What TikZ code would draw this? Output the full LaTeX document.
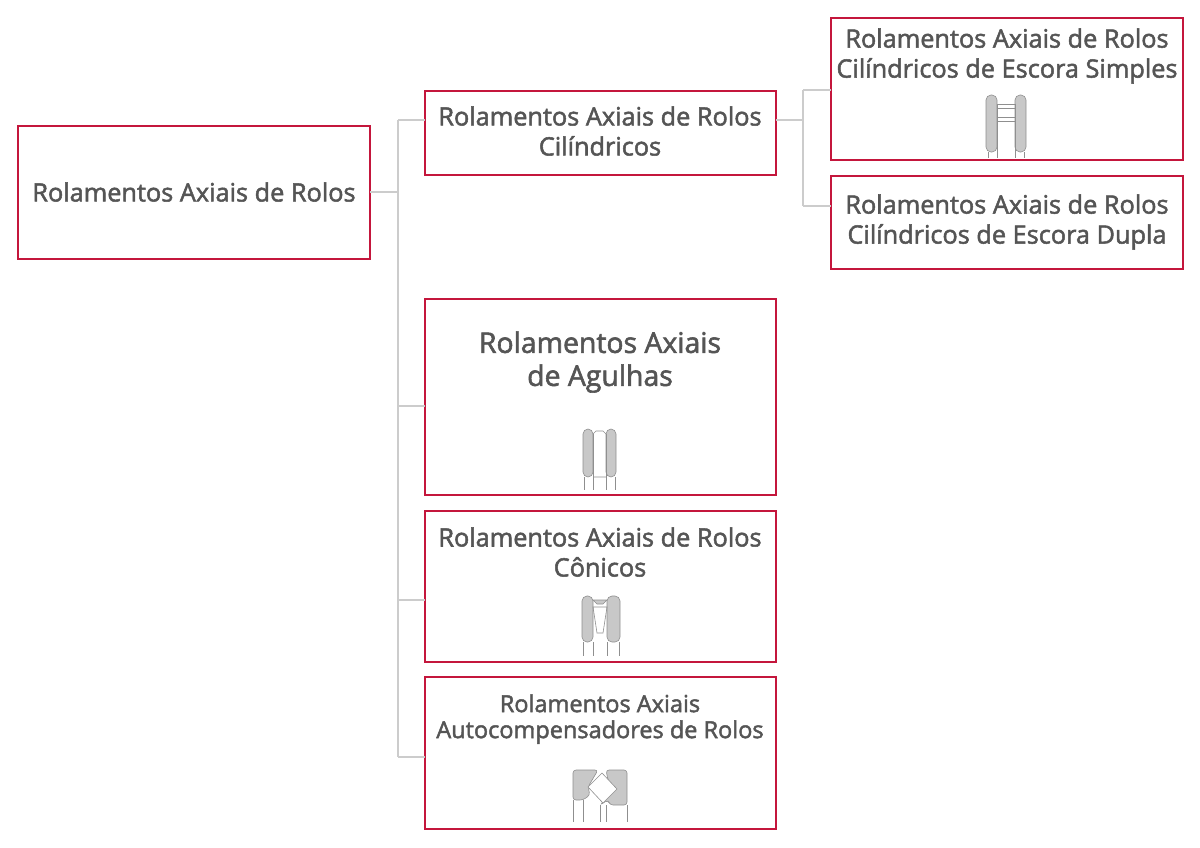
\documentclass[tikz,border=0pt]{standalone}
\usepackage{fontspec}
\setmainfont{Open Sans}[UprightFeatures={FakeBold=2}]
\usetikzlibrary{positioning}
\definecolor{myred}{RGB}{196,22,60}
\definecolor{mytext}{RGB}{85,85,85}
\definecolor{mygray}{RGB}{204,204,204}
\definecolor{myfill}{RGB}{200,200,200}
\tikzset{
	box/.style={
		draw=myred,
		line width=2.2pt,
		text=mytext,
		align=center,
		font=\fontsize{25.3}{30}\selectfont,
		inner sep=0pt
	}
}
\begin{document}
\begin{tikzpicture}[x=1pt,y=-1pt]
		\tikzset{link/.style={draw=mygray, line width=1.8pt}}
		\tikzset{part/.style={draw=mygray!70!black, line width=0.6pt, fill=myfill}}
		\tikzset{thin/.style={draw=mygray!70!black, line width=0.6pt}}
		\useasboundingbox (0,0) rectangle (1200,847);
		
		% boxes
		\draw[box] (18,126) rectangle (370,259);
		\draw[box] (425,91) rectangle (776,175);
		\draw[box] (831,18) rectangle (1183,160);
		\draw[box] (831,176) rectangle (1183,269);
		\draw[box] (425,299) rectangle (776,495);
		\draw[box] (425,511) rectangle (776,662);
		\draw[box] (425,677) rectangle (776,829);
		
		% labels
		\node(root) at (194,192) [box,draw=none] {Rolamentos Axiais de Rolos};
		\node(cyl) at (600,131) [box,draw=none] {Rolamentos Axiais de Rolos\\Cilíndricos};
		\node(cylS) at (1007,56) [box,draw=none] {Rolamentos Axiais de Rolos\\Cilíndricos de Escora Simples};
		\node(cylD) at (1007,222) [box,draw=none] {Rolamentos Axiais de Rolos\\Cilíndricos de Escora Dupla};
		\node(needle) at (600,362) [box,draw=none,font=\fontsize{28.4}{33}\selectfont] {Rolamentos Axiais\\de Agulhas};
		\node(taper) at (600,552) [box,draw=none] {Rolamentos Axiais de Rolos\\Cônicos};
		\node(spher) at (600,719) [box,draw=none,font=\fontsize{23.5}{26}\selectfont] {Rolamentos Axiais\\Autocompensadores de Rolos};
		
		% connectors
		\coordinate(j1) at (398,192);
		\coordinate(j2) at (803,120);
		\draw[link] (370,192) -- (j1);
		\draw[link] (398,120) -- (398,757);
		\draw[link] (398,120) -- (425,120);
		\draw[link] (398,406) -- (425,406);
		\draw[link] (398,600) -- (425,600);
		\draw[link] (398,757) -- (425,757);
		\draw[link] (776,120) -- (j2);
		\draw[link] (803,90) -- (803,206);
		\draw[link] (803,90) -- (831,90);
		\draw[link] (803,206) -- (831,206);
		
		% icon: single direction cylindrical
		\draw[part, rounded corners=5pt] (986,95) rectangle (997,152);
		\draw[part, rounded corners=5pt] (1015,95) rectangle (1026,152);
		\draw[thin] (997,104) -- (1015,104) (997,108) -- (1015,108) (997,117) -- (1015,117) (997,121) -- (1015,121);
		\draw[thin] (997,104) -- (997,158) (1015,104) -- (1015,158) (988,152) -- (988,158) (1024,152) -- (1024,158);
		
		% icon: needle
		\draw[part, rounded corners=5pt] (583,429) rectangle (593,477);
		\draw[part, rounded corners=5pt] (606,429) rectangle (616,477);
		\draw[thin] (593,434) -- (596,431) -- (603,431) -- (606,434) (593,477) -- (606,477);
		\draw[thin] (593,434) -- (593,490) (606,434) -- (606,490) (584,477) -- (584,490) (615,477) -- (615,490);
		
		% icon: tapered
		\draw[part, rounded corners=5pt] (582,596) -- (593,596) -- (593,642) -- (582,642) -- cycle;
		\draw[part, rounded corners=5pt] (607,596) -- (620,596) -- (620,642) -- (607,642) -- cycle;
		\draw[part] (593,600) -- (597,604) -- (603,604) -- (607,600) -- cycle;
		\draw[thin] (593,607) -- (607,607) -- (603,633) -- (597,633) -- cycle;
		\draw[thin] (583,642) -- (583,656) (593,642) -- (593,656) (607,642) -- (607,656) (619,642) -- (619,656);
		
		% icon: spherical
		\draw[part, rounded corners=3pt] (573,770) -- (598,770) -- (588,787) -- (590,795) -- (583,800) -- (573,800) -- cycle;
		\draw[part, rounded corners=3pt] (606,770) -- (627,770) -- (627,805) -- (610,805) -- (608,800) -- (600,805) -- (615,789) -- (608,780) -- cycle;
		\draw[thin, fill=white] (588,787) -- (602,773) -- (617,789) -- (603,803) -- cycle;
		\draw[thin] (573,800) -- (573,822) (583,800) -- (583,822) (600,805) -- (600,822) (606,805) -- (606,822) (627,805) -- (627,822);
		\end{tikzpicture}
\end{document}
